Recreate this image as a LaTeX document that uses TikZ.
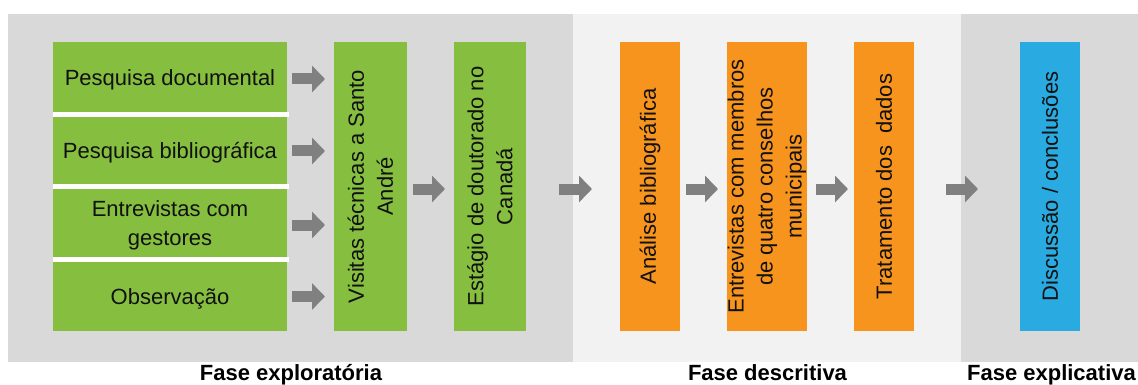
\documentclass[tikz,border=0pt]{standalone}
\usepackage{fontspec}
\setmainfont{Liberation Sans}
\usetikzlibrary{arrows.meta}
\definecolor{phasegray}{HTML}{D9D9D9}
\definecolor{phaselight}{HTML}{F2F2F2}
\definecolor{stepgreen}{HTML}{86BF40}
\definecolor{steporange}{HTML}{F7941D}
\definecolor{stepblue}{HTML}{29ABE2}
\definecolor{arrowgray}{HTML}{808080}
\definecolor{inkcol}{HTML}{111111}
\tikzset{
  stepbox/.style={rectangle, inner sep=0pt, outer sep=0pt, draw=none},
  greenbox/.style={stepbox, fill=stepgreen},
  orangebox/.style={stepbox, fill=steporange},
  bluebox/.style={stepbox, fill=stepblue},
  boxtext/.style={inner sep=0pt, align=center, text=inkcol,
    font=\fontsize{22}{29}\selectfont},
  htext/.style={boxtext, yshift=-2.5pt},
  vtext/.style={boxtext, rotate=90},
  phaselabel/.style={inner sep=0pt, anchor=base, text=black,
    font=\fontsize{22}{26}\selectfont\bfseries},
  blockarrow/.style={draw=arrowgray, line width=11pt, line cap=butt,
    -{Triangle[width=26pt, length=13pt, fill=arrowgray]}},
}
\begin{document}
\begin{tikzpicture}[x=1pt, y=-1pt]
\useasboundingbox (0,0) rectangle (1138,385);
\fill[white] (0,0) rectangle (1138,385);

% phase backgrounds
\fill[phasegray]  (8,14)   rectangle (573,362);
\fill[phaselight] (573,14) rectangle (961,362);
\fill[phasegray]  (961,14) rectangle (1138,362);

% exploratory phase: four methods stacked on the left
\node[greenbox, minimum width=234pt, minimum height=70pt] (p1) at (170,77) {};
\node[greenbox, minimum width=234pt, minimum height=67pt] (p2) at (170,150.5) {};
\node[greenbox, minimum width=234pt, minimum height=68pt] (p3) at (170,223) {};
\node[greenbox, minimum width=234pt, minimum height=69pt] (p4) at (170,296.5) {};
\fill[white] (p1.south west) rectangle ([xshift=2pt]p2.north east);
\fill[white] (p2.south west) rectangle ([xshift=2pt]p3.north east);
\fill[white] (p3.south west) rectangle ([xshift=2pt]p4.north east);
\node[htext] (p1t) at (p1.center) {Pesquisa documental};
\node[htext] (p2t) at (p2.center) {Pesquisa bibliográfica};
\node[htext] (p3t) at (p3.center) {Entrevistas com\\gestores};
\node[htext] (p4t) at (p4.center) {Observação};

% tall vertical steps
\node[greenbox, minimum width=73pt, minimum height=289pt] (vis) at (370.5,186.5) {};
\node[greenbox, minimum width=72pt, minimum height=289pt] (est) at (490,186.5) {};
\node[orangebox, minimum width=60pt, minimum height=289pt] (ana) at (650,186.5) {};
\node[orangebox, minimum width=80pt, minimum height=289pt] (ent) at (767,186.5) {};
\node[orangebox, minimum width=60pt, minimum height=289pt] (tra) at (884,186.5) {};
\node[bluebox, minimum width=60pt, minimum height=289pt] (dis) at (1050,186.5) {};

\node[vtext] (vist) at (vis.center) {Visitas técnicas a Santo\\André};
\node[vtext] (estt) at (est.center) {Estágio de doutorado no\\Canadá};
\node[vtext] (anat) at (ana.center) {Análise bibliográfica};
\node[vtext] (entt) at (ent.center) {Entrevistas com membros\\de quatro conselhos\\municipais};
\node[vtext] (trat) at (tra.center) {Tratamento dos\ \ dados};
\node[vtext] (dist) at (dis.center) {Discussão / conclusões};

% block arrows between steps
\draw[blockarrow] ([xshift=5pt,yshift=-2pt]p1.east) -- ([xshift=-9pt,yshift=-2pt]p1.east -| vis.west);
\draw[blockarrow] ([xshift=5pt,yshift=-0.5pt]p2.east) -- ([xshift=-9pt,yshift=-0.5pt]p2.east -| vis.west);
\draw[blockarrow] ([xshift=5pt,yshift=-2pt]p3.east) -- ([xshift=-9pt,yshift=-2pt]p3.east -| vis.west);
\draw[blockarrow] ([xshift=5pt]p4.east) -- ([xshift=-9pt]p4.east -| vis.west);
\draw[blockarrow] ([xshift=6pt,yshift=-2.5pt]vis.east)  -- ([xshift=-9pt,yshift=-2.5pt]est.west);
\draw[blockarrow] ([xshift=33pt,yshift=-2.5pt]est.east) -- ([xshift=-28pt,yshift=-2.5pt]ana.west);
\draw[blockarrow] ([xshift=6pt,yshift=-2.5pt]ana.east)  -- ([xshift=-9pt,yshift=-2.5pt]ent.west);
\draw[blockarrow] ([xshift=9pt,yshift=-2.5pt]ent.east)  -- ([xshift=-6pt,yshift=-2.5pt]tra.west);
\draw[blockarrow] ([xshift=32pt,yshift=-2.5pt]tra.east) -- ([xshift=-42pt,yshift=-2.5pt]dis.west);

% phase names
\node[phaselabel] (l1) at (291,380) {Fase exploratória};
\node[phaselabel] (l2) at (767.5,380) {Fase descritiva};
\node[phaselabel] (l3) at (1051.5,380) {Fase explicativa};
\end{tikzpicture}
\end{document}
